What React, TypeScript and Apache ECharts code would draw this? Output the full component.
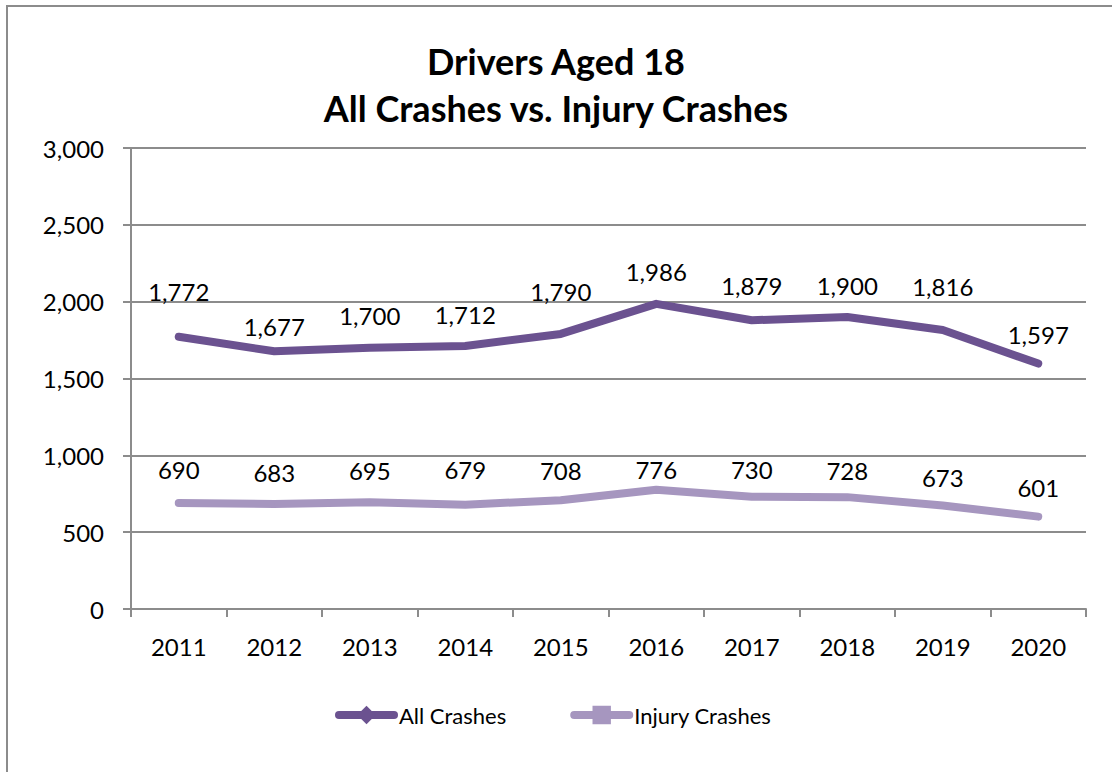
import React, { useEffect, useRef } from "react";
import * as echarts from "echarts";

const years = ["2011", "2012", "2013", "2014", "2015", "2016", "2017", "2018", "2019", "2020"];
const allCrashes = [1772, 1677, 1700, 1712, 1790, 1986, 1879, 1900, 1816, 1597];
const injuryCrashes = [690, 683, 695, 679, 708, 776, 730, 728, 673, 601];
const titleLines = ["Drivers Aged 18", "All Crashes vs. Injury Crashes"];
const seriesNames = ["All Crashes", "Injury Crashes"];

// label vertical offsets (style only)
const allLabelDy = [-45, -25, -32, -31, -42, -32, -35, -32, -43, -29];
const injLabelDy = [-33, -32, -32, -35, -30, -20, -27, -27, -28, -29];

const FONT = "Lato, 'Open Sans', sans-serif";
const C_ALL = "#6B5290";
const C_INJ = "#A696BF";
const GRID = "#8c8c8c";

const fmt = (v: number) => Number(v).toLocaleString("en-US");

export default function App() {
  const ref = useRef<HTMLDivElement>(null);
  useEffect(() => {
    document.body.style.margin = "0";
    const chart = echarts.init(ref.current!, null, { renderer: "svg" });
    const mk = (vals: number[], dys: number[]) =>
      vals.map((v, i) => ({ value: v, label: { offset: [0, dys[i]] } }));
    chart.setOption({
      animation: false,
      backgroundColor: "#fff",
      textStyle: { fontFamily: FONT },
      title: {
        text: titleLines.join("\n"),
        left: "center",
        top: 32,
        textStyle: { fontFamily: FONT, fontWeight: "bold", fontSize: 36, lineHeight: 47, color: "#000" },
      },
      graphic: [
        {
          type: "rect",
          shape: { x: 7, y: 6, width: 1200, height: 900 },
          style: { fill: "none", stroke: GRID, lineWidth: 2 },
          silent: true,
          z: -1,
        },
      ],
      grid: { left: 131, right: 26, top: 148, bottom: 163, containLabel: false },
      legend: {
        top: 699,
        left: 330,
        itemWidth: 55,
        itemHeight: 23,
        itemGap: 64,
        lineStyle: { width: 8, cap: "round" },
        textStyle: { fontFamily: FONT, fontSize: 22, color: "#000" },
        data: seriesNames,
      },
      xAxis: {
        type: "category",
        data: years,
        boundaryGap: true,
        axisLine: { lineStyle: { color: GRID, width: 2 } },
        axisTick: { show: true, length: 8, lineStyle: { color: GRID, width: 2 } },
        axisLabel: { fontFamily: FONT, fontSize: 24, color: "#000", margin: 25 },
      },
      yAxis: {
        type: "value",
        min: 0,
        max: 3000,
        interval: 500,
        axisLine: { show: true, lineStyle: { color: GRID, width: 2 } },
        axisTick: { show: true, length: 8, lineStyle: { color: GRID, width: 2 } },
        splitLine: { lineStyle: { color: GRID, width: 2 } },
        axisLabel: { fontFamily: FONT, fontSize: 24, color: "#000", margin: 27, formatter: fmt },
      },
      series: [
        {
          name: seriesNames[0],
          type: "line",
          data: mk(allCrashes, allLabelDy),
          symbol: "diamond",
          symbolSize: 1,
          showSymbol: true,
          itemStyle: { color: C_ALL },
          lineStyle: { color: C_ALL, width: 8, cap: "round", join: "round" },
          label: {
            show: true,
            position: "inside",
            fontFamily: FONT,
            fontSize: 24,
            color: "#000",
            formatter: (p: any) => fmt(p.value),
          },
          z: 3,
        },
        {
          name: seriesNames[1],
          type: "line",
          data: mk(injuryCrashes, injLabelDy),
          symbol: "rect",
          symbolSize: 1,
          showSymbol: true,
          itemStyle: { color: C_INJ },
          lineStyle: { color: C_INJ, width: 8, cap: "round", join: "round" },
          label: {
            show: true,
            position: "inside",
            fontFamily: FONT,
            fontSize: 24,
            color: "#000",
            formatter: (p: any) => fmt(p.value),
          },
          z: 2,
        },
      ],
    });
    return () => chart.dispose();
  }, []);
  return <div ref={ref} style={{ width: 1112, height: 772 }} />;
}
